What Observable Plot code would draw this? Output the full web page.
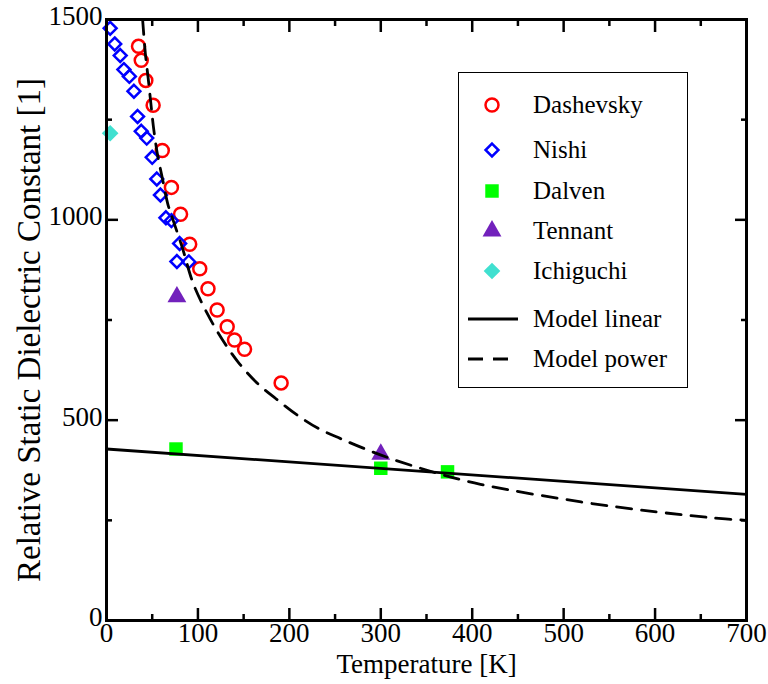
<!DOCTYPE html>
<html><head><meta charset="utf-8">
<script src="https://cdn.jsdelivr.net/npm/d3@7"></script>
<script src="https://cdn.jsdelivr.net/npm/@observablehq/plot@0.6"></script>
<style>
body{margin:0;background:#fff;}
#wrap{position:relative;width:768px;height:684px;font-family:"Liberation Serif","Times New Roman",serif;}
#legend{position:absolute;left:458px;top:72px;width:230px;height:316px;border:1.5px solid #000;box-sizing:border-box;background:#fff;}
.row{position:absolute;left:0;height:40px;display:flex;align-items:center;font-size:25px;color:#000;}
.row svg{width:74px;height:40px;}
</style></head><body><div id="wrap"></div>
<script>
// ---- data ----
const dashevskyT = [35, 38, 43, 51, 61, 71, 81, 91, 102, 111, 121, 132, 140, 151, 191];
const dashevskyE = [1433, 1398, 1348, 1286, 1173, 1081, 1014, 939, 878, 828, 775, 733, 700, 677, 593];
const nishiT = [4, 9, 15, 19, 25, 30, 34, 38, 44, 50, 55, 59, 65, 71, 80, 77, 90];
const nishiE = [1478, 1439, 1410, 1375, 1358, 1321, 1258, 1221, 1204, 1156, 1102, 1062, 1005, 998, 941, 896, 895];
const dalvenT = [76, 300, 373];
const dalvenE = [428, 380, 371];
const tennantT = [77, 300];
const tennantE = [808, 415];
const ichiguchiT = [4];
const ichiguchiE = [1216];
const linearT = [0, 700];
const linearE = [428, 315];
const powerT = [39.5, 42.5, 46, 49, 52, 56, 61, 67, 72, 83, 95, 110, 127, 145, 165, 185, 209, 232, 256, 282, 311, 358, 409, 519, 602, 664, 700];
const powerE = [1500, 1415, 1345, 1280, 1220, 1160, 1105, 1040, 1005, 930, 840, 767, 700, 642, 592, 554, 512, 479, 454, 429, 404, 370, 340, 296, 271, 256, 250];
const xMajor = [0, 100, 200, 300, 400, 500, 600, 700];
const xMinor = [50, 150, 250, 350, 450, 550, 650];
const yMajor = [0, 500, 1000, 1500];
const yMinor = [250, 750, 1250];
const legendLabels = ["Dashevsky", "Nishi", "Dalven", "Tennant", "Ichiguchi", "Model linear", "Model power"];

const pts = (T, E) => T.map((t, i) => ({t, e: E[i]}));
const RED = "#ff0000", BLUE = "#0000ff", GREEN = "#00ff00", INDIGO = "#7221bc", TURQ = "#40e0d0";
const FONT = 27;

const tickAx = (anchor, ticks, size) => (anchor === "bottom" || anchor === "top")
  ? Plot.axisX({anchor, ticks, tickSize: -size, tickFormat: () => "", strokeWidth: 2.5, label: null})
  : Plot.axisY({anchor, ticks, tickSize: -size, tickFormat: () => "", strokeWidth: 2.5, label: null});

const chart = Plot.plot({
  width: 768, height: 684,
  marginLeft: 106, marginRight: 22, marginTop: 19, marginBottom: 64,
  x: {domain: [0, 700]},
  y: {domain: [0, 1500]},
  style: {fontFamily: "'Liberation Serif', 'Times New Roman', serif", fontSize: FONT + "px", color: "black", background: "white", overflow: "visible"},
  marks: [
    Plot.dot(pts(dashevskyT, dashevskyE), {x: "t", y: "e", symbol: "circle", r: 6.5, stroke: RED, strokeWidth: 2.5, fill: "none"}),
    Plot.dot(pts(nishiT, nishiE), {x: "t", y: "e", symbol: "diamond2", r: 5.8, stroke: BLUE, strokeWidth: 2.5, fill: "none"}),
    Plot.dot(pts(dalvenT, dalvenE), {x: "t", y: "e", symbol: "square", r: 7.6, fill: GREEN, stroke: "none"}),
    Plot.dot(pts(tennantT, tennantE), {x: "t", y: "e", symbol: "triangle", r: 7, fill: INDIGO, stroke: "none"}),
    Plot.dot(pts(ichiguchiT, ichiguchiE), {x: "t", y: "e", symbol: "diamond2", r: 7.5, fill: TURQ, stroke: "none"}),
    Plot.line(pts(linearT, linearE), {x: "t", y: "e", stroke: "black", strokeWidth: 2.8}),
    Plot.line(pts(powerT, powerE), {x: "t", y: "e", stroke: "black", strokeWidth: 2.8, strokeDasharray: "15,10", curve: "catmull-rom", clip: true}),
    tickAx("bottom", xMajor, 12), tickAx("bottom", xMinor, 6),
    tickAx("top", xMajor, 12), tickAx("top", xMinor, 6),
    tickAx("left", yMajor, 12), tickAx("left", yMinor, 6),
    tickAx("right", yMajor, 12), tickAx("right", yMinor, 6),
    Plot.axisX({anchor: "bottom", ticks: xMajor, tickSize: 0, tickPadding: 2, fontSize: FONT, label: null, tickFormat: d => String(d)}),
    Plot.axisY({anchor: "left", ticks: yMajor, tickSize: 0, tickPadding: 4, dy: -3, fontSize: FONT, label: null, tickFormat: d => String(d)}),
    Plot.frame({stroke: "black", strokeWidth: 3}),
    Plot.text(["Temperature [K]"], {frameAnchor: "bottom", textAnchor: "middle", dy: 52, fontSize: FONT}),
    Plot.text(["Relative Static Dielectric Constant [1]"], {frameAnchor: "left", textAnchor: "middle", dx: -77, dy: 10, rotate: -90, fontSize: 33})
  ]
});
const wrap = document.getElementById("wrap");
wrap.appendChild(chart);

// ---- legend ----
const legend = document.createElement("div");
legend.id = "legend";
wrap.appendChild(legend);
const specs = [
  {sym: d3.symbolCircle, r: 6.5, stroke: RED, fill: "none"},
  {sym: d3.symbolDiamond2, r: 5.8, stroke: BLUE, fill: "none"},
  {sym: d3.symbolSquare, r: 7.6, stroke: "none", fill: GREEN},
  {sym: d3.symbolTriangle, r: 7, stroke: "none", fill: INDIGO},
  {sym: d3.symbolDiamond2, r: 7.5, stroke: "none", fill: TURQ},
  {line: "none"},
  {line: "15,10"}
];
const rowTops = [12, 57, 98, 138, 178, 226, 266];
legendLabels.forEach((lab, i) => {
  const row = document.createElement("div");
  row.className = "row";
  row.style.top = rowTops[i] + "px";
  const svg = d3.create("svg").attr("viewBox", "0 0 74 40");
  const s = specs[i];
  if (s.sym) {
    svg.append("path").attr("transform", "translate(33,20)")
      .attr("d", d3.symbol(s.sym, Math.PI * s.r * s.r)())
      .attr("fill", s.fill).attr("stroke", s.stroke).attr("stroke-width", 2.5);
  } else {
    svg.append("line").attr("x1", 9).attr("x2", 59).attr("y1", 20).attr("y2", 20)
      .attr("stroke", "black").attr("stroke-width", 2.8)
      .attr("stroke-dasharray", s.line === "none" ? null : s.line);
  }
  row.appendChild(svg.node());
  const span = document.createElement("span");
  span.textContent = lab;
  row.appendChild(span);
  legend.appendChild(row);
});
</script>
</body></html>
